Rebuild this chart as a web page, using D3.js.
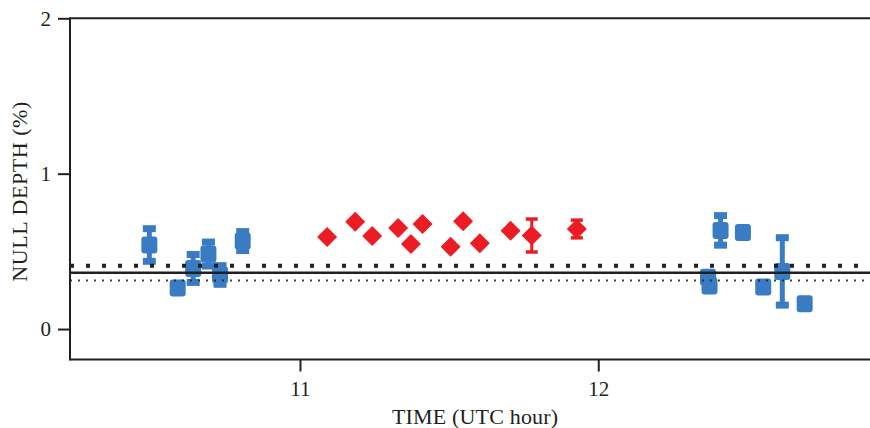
<!DOCTYPE html>
<html>
<head>
<meta charset="utf-8">
<script src="https://cdn.jsdelivr.net/npm/d3@7"></script>
<style>
  html, body { margin: 0; padding: 0; background: #fff; }
  svg { display: block; }
  text { font-family: "Liberation Serif", "DejaVu Serif", serif; fill: #231f20; }
</style>
</head>
<body>
<svg id="chart" width="870" height="428"></svg>
<script>
// Null depth measurements, time in UTC hours, depth in percent
const blueTime  = [10.495, 10.590, 10.642, 10.693, 10.732, 10.808, 12.368, 12.373, 12.410, 12.485, 12.553, 12.617, 12.692];
const blueDepth = [0.541, 0.264, 0.390, 0.483, 0.348, 0.566, 0.333, 0.277, 0.635, 0.622, 0.270, 0.371, 0.163];
const blueError = [0.105, 0, 0.090, 0.077, 0.060, 0.061, 0, 0, 0.095, 0, 0, 0.217, 0];

const redTime  = [11.091, 11.185, 11.242, 11.329, 11.372, 11.411, 11.505, 11.547, 11.603, 11.706, 11.777, 11.928];
const redDepth = [0.592, 0.691, 0.599, 0.650, 0.547, 0.676, 0.530, 0.693, 0.552, 0.633, 0.602, 0.644];
const redError = [0, 0, 0, 0, 0, 0, 0, 0, 0, 0, 0.106, 0.057];

// Horizontal reference levels
const levelCoarseDots = 0.407;
const levelSolid      = 0.363;
const levelFineDots   = 0.313;

const xTicks = [11, 12];
const yTicks = [0, 1, 2];
const xLabel = "TIME (UTC hour)";
const yLabel = "NULL DEPTH (%)";

const BLUE = "#3a7cc3";
const RED  = "#ec1c24";
const INK  = "#231f20";

const svg = d3.select("#chart");
const plotLeft = 70, plotRight = 870, plotTop = 18.3, plotBottom = 359.5;

const x = d3.scaleLinear().domain([10.229, 12.911]).range([plotLeft, plotRight]);
const y = d3.scaleLinear().domain([-0.196, 2]).range([plotBottom, plotTop]);

const blue = blueTime.map((t, i) => ({ t, v: blueDepth[i], e: blueError[i] }));
const red  = redTime.map((t, i) => ({ t, v: redDepth[i], e: redError[i] }));

// Error bars for the blue series: thick stem with block caps
const gBlueErr = svg.append("g").attr("fill", BLUE);
blue.filter(d => d.e > 0).forEach(d => {
  const y0 = y(d.v + d.e), y1 = y(d.v - d.e), cx = x(d.t);
  gBlueErr.append("rect").attr("x", cx - 2.5).attr("y", y0).attr("width", 5).attr("height", y1 - y0);
  gBlueErr.append("rect").attr("x", cx - 6.5).attr("y", y0 - 3.5).attr("width", 13).attr("height", 7);
  gBlueErr.append("rect").attr("x", cx - 6.5).attr("y", y1 - 3.5).attr("width", 13).attr("height", 7);
});

// Blue markers
svg.append("g").selectAll("rect").data(blue).join("rect")
  .attr("x", d => x(d.t) - 8)
  .attr("y", d => y(d.v) - 8.5)
  .attr("width", 16).attr("height", 17).attr("rx", 3)
  .attr("fill", BLUE);

// Error bars for the red series: thin stem with thin caps
const gRedErr = svg.append("g").attr("fill", RED);
red.filter(d => d.e > 0).forEach(d => {
  const y0 = y(d.v + d.e), y1 = y(d.v - d.e), cx = x(d.t);
  gRedErr.append("rect").attr("x", cx - 1.5).attr("y", y0).attr("width", 3).attr("height", y1 - y0);
  gRedErr.append("rect").attr("x", cx - 6).attr("y", y0 - 1.75).attr("width", 12).attr("height", 3.5);
  gRedErr.append("rect").attr("x", cx - 6).attr("y", y1 - 1.75).attr("width", 12).attr("height", 3.5);
});

// Red diamond markers
const r = 10;
svg.append("g").selectAll("path").data(red).join("path")
  .attr("d", d => {
    const cx = x(d.t), cy = y(d.v);
    return `M${cx},${cy - r}L${cx + r},${cy}L${cx},${cy + r}L${cx - r},${cy}Z`;
  })
  .attr("fill", RED);

// Reference lines drawn over the markers
svg.append("line")
  .attr("x1", plotLeft).attr("x2", plotRight)
  .attr("y1", y(levelCoarseDots)).attr("y2", y(levelCoarseDots))
  .attr("stroke", INK).attr("stroke-width", 4).attr("stroke-dasharray", "4,12");
svg.append("line")
  .attr("x1", plotLeft).attr("x2", plotRight)
  .attr("y1", y(levelSolid)).attr("y2", y(levelSolid))
  .attr("stroke", INK).attr("stroke-width", 2.5);
svg.append("line")
  .attr("x1", plotLeft).attr("x2", plotRight)
  .attr("y1", y(levelFineDots)).attr("y2", y(levelFineDots))
  .attr("stroke", INK).attr("stroke-width", 2).attr("stroke-dasharray", "2,6")
  .attr("stroke-opacity", 0.85);

// Axes
const yAxis = svg.append("g").attr("transform", `translate(${plotLeft},0)`)
  .call(d3.axisLeft(y).tickValues(yTicks).tickSize(12).tickPadding(7).tickFormat(d3.format("d")));
const xAxis = svg.append("g").attr("transform", `translate(0,${plotBottom})`)
  .call(d3.axisBottom(x).tickValues(xTicks).tickSize(12).tickPadding(10).tickFormat(d3.format("d")));
[yAxis, xAxis].forEach(g => {
  g.select(".domain").remove();
  g.selectAll(".tick line").attr("stroke", INK).attr("stroke-width", 2);
  g.selectAll(".tick text").attr("fill", INK)
    .style("font-family", '"Liberation Serif", serif').style("font-size", "21px");
});

// Frame: left spine plus top and bottom rules
svg.append("line").attr("x1", plotLeft).attr("x2", plotLeft).attr("y1", plotTop - 1).attr("y2", plotBottom + 1)
  .attr("stroke", INK).attr("stroke-width", 2);
svg.append("line").attr("x1", plotLeft).attr("x2", plotRight).attr("y1", plotTop).attr("y2", plotTop)
  .attr("stroke", INK).attr("stroke-width", 2);
svg.append("line").attr("x1", plotLeft).attr("x2", plotRight).attr("y1", plotBottom).attr("y2", plotBottom)
  .attr("stroke", INK).attr("stroke-width", 2);

// Axis titles
svg.append("text")
  .attr("x", 475).attr("y", 424)
  .attr("text-anchor", "middle")
  .attr("textLength", 166).attr("lengthAdjust", "spacing")
  .style("font-size", "22px")
  .text(xLabel);
svg.append("text")
  .attr("transform", "translate(27,191.7) rotate(-90)")
  .attr("text-anchor", "middle")
  .attr("textLength", 180).attr("lengthAdjust", "spacing")
  .style("font-size", "22px")
  .text(yLabel);
</script>
</body>
</html>
